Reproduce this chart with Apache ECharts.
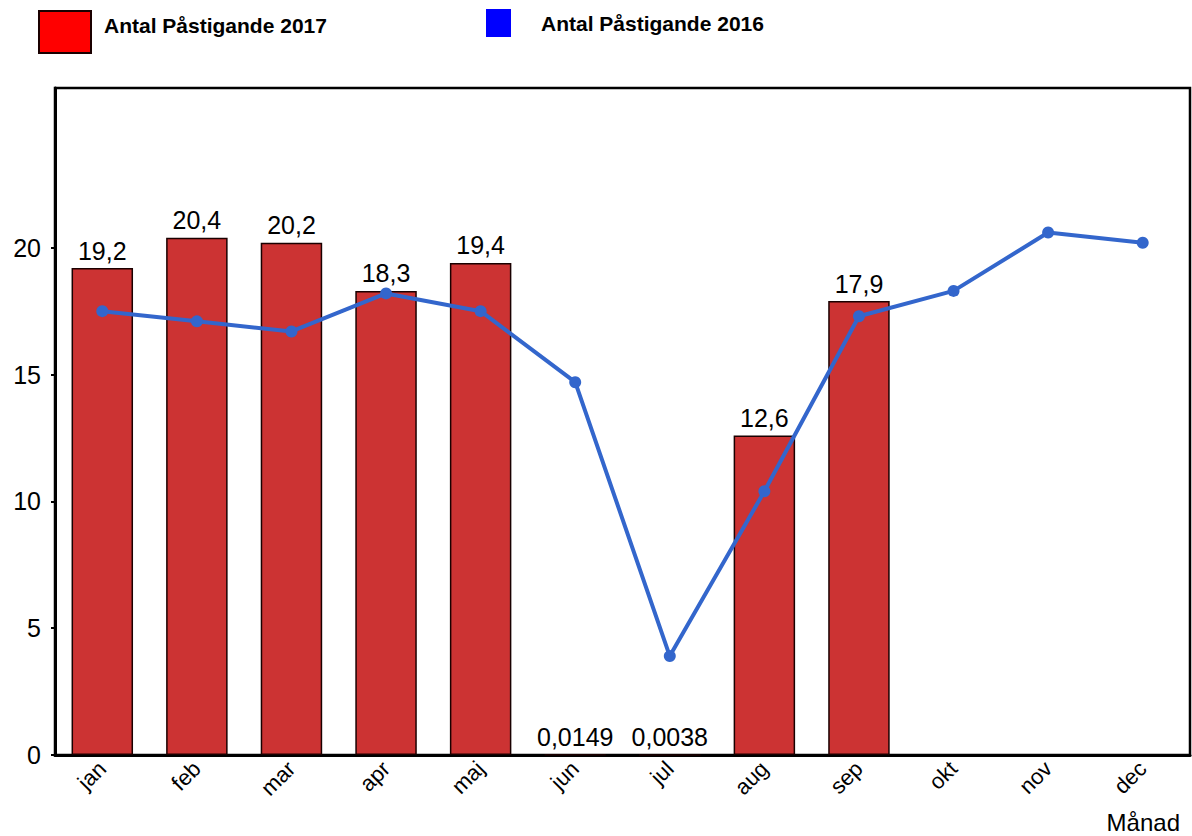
<!DOCTYPE html>
<html>
<head>
<meta charset="utf-8">
<script src="https://cdn.jsdelivr.net/npm/echarts@6/dist/echarts.min.js"></script>
<style>
  html, body { margin: 0; padding: 0; background: #fff; }
  #chart { width: 1192px; height: 836px; }
</style>
</head>
<body>
<div id="chart"></div>
<script>
// månader
var months = ['jan', 'feb', 'mar', 'apr', 'maj', 'jun', 'jul', 'aug', 'sep', 'okt', 'nov', 'dec'];
// Antal Påstigande 2017 (staplar)
var values2017 = [19.2, 20.4, 20.2, 18.3, 19.4, 0.0149, 0.0038, 12.6, 17.9, null, null, null];
// Antal Påstigande 2016 (linje)
var values2016 = [17.5, 17.1, 16.7, 18.2, 17.5, 14.7, 3.9, 10.4, 17.3, 18.3, 20.6, 20.2];
var yTicks = [0, 5, 10, 15, 20];

var font = 'Liberation Sans, Arial, sans-serif';

var chart = echarts.init(document.getElementById('chart'), null, { renderer: 'svg' });

var option = {
  animation: false,
  textStyle: { fontFamily: font, color: '#000' },
  legend: [
    {
      left: 38, top: 10, padding: 0,
      itemWidth: 52, itemHeight: 42, itemGap: 0,
      icon: 'rect',
      data: [{ name: 'Antal Påstigande 2017', itemStyle: { color: '#ff0000' } }],
      // texten sitter högre än rutans mitt
      formatter: function (name) { return name + '\n '; },
      textStyle: { fontSize: 21, lineHeight: 14, fontWeight: 'bold', color: '#000', padding: [0, 0, 0, 8] }
    },
    {
      left: 486, top: 9, padding: 0,
      itemWidth: 25, itemHeight: 28, itemGap: 0,
      icon: 'rect',
      data: [{ name: 'Antal Påstigande 2016', itemStyle: { color: '#0000ff' } }],
      textStyle: { fontSize: 21, fontWeight: 'bold', color: '#000', padding: [0, 0, 0, 25] }
    }
  ],
  grid: {
    left: 55, right: 2, top: 88, bottom: 81,
    show: true, borderColor: '#000', borderWidth: 2.5,
    containLabel: false
  },
  xAxis: {
    type: 'category',
    data: months,
    name: 'Månad',
    nameLocation: 'end',
    nameGap: -10,
    nameTextStyle: { fontSize: 24, align: 'right', verticalAlign: 'top', padding: [55, 0, 0, 0], color: '#000' },
    axisLine: { lineStyle: { color: '#000', width: 3 } },
    axisTick: { show: false },
    axisLabel: { rotate: 45, fontSize: 22, color: '#000', margin: 10, interval: 0 }
  },
  yAxis: {
    type: 'value',
    min: 0,
    max: 26.3,
    axisLine: { show: true, lineStyle: { color: '#000', width: 3 } },
    axisTick: { show: true, length: 4, customValues: yTicks, lineStyle: { color: '#000', width: 2 } },
    splitLine: { show: false },
    axisLabel: { fontSize: 25, color: '#000', margin: 14, customValues: yTicks }
  },
  series: [
    {
      name: 'Antal Påstigande 2017',
      type: 'bar',
      data: values2017,
      barWidth: '65%',
      itemStyle: { color: '#cc3333', borderColor: '#1a0000', borderWidth: 1.5 },
      label: {
        show: true, position: 'top', distance: 5,
        fontSize: 25, color: '#000',
        formatter: function (p) { return String(p.value).replace('.', ','); }
      },
      z: 2
    },
    {
      name: 'Antal Påstigande 2016',
      type: 'line',
      data: values2016,
      symbol: 'circle',
      symbolSize: 12,
      lineStyle: { color: '#3366cc', width: 4 },
      itemStyle: { color: '#3366cc' },
      z: 3
    }
  ]
};

chart.setOption(option);
</script>
</body>
</html>
